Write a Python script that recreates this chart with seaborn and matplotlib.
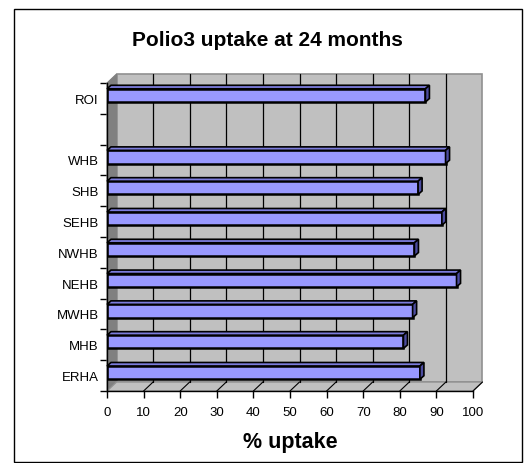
import matplotlib
matplotlib.use("Agg")
import matplotlib.pyplot as plt
import seaborn as sns
import numpy as np
import pandas as pd
from matplotlib.patches import Polygon, Rectangle
from matplotlib.lines import Line2D

# ---- data ----
regions = ["ROI", "WHB", "SHB", "SEHB", "NWHB", "NEHB", "MWHB", "MHB", "ERHA"]
uptake = [87, 92.5, 85, 91.5, 84, 95.5, 83.5, 81, 85.5]
order = ["ROI", " ", "WHB", "SHB", "SEHB", "NWHB", "NEHB", "MWHB", "MHB", "ERHA"]
xticks = [0, 10, 20, 30, 40, 50, 60, 70, 80, 90, 100]
title = "Polio3 uptake at 24 months"
xlabel = "% uptake"

sns.set_theme(style="white")
plt.rcParams["font.family"] = ["Liberation Sans", "DejaVu Sans"]
plt.rcParams["text.color"] = "black"
plt.rcParams["xtick.color"] = "black"
plt.rcParams["ytick.color"] = "black"
plt.rcParams["axes.labelcolor"] = "black"

W, H, DPI = 530, 464, 100
fig = plt.figure(figsize=(W / DPI, H / DPI), dpi=DPI)

# front plane of the 3D plot (pixels)
L, R, T, B = 107, 473, 84, 392
ax = fig.add_axes([L / W, (H - B) / H, (R - L) / W, (B - T) / H])
ax.set_facecolor("none")

df = pd.DataFrame({"region": regions, "uptake": uptake})
sns.barplot(data=df, x="uptake", y="region", order=order, orient="h",
            color="#9999ff", saturation=1, edgecolor="black", linewidth=1.8,
            width=0.43, ax=ax, zorder=5)
bars = [p for p in ax.patches if p.get_width() > 0]

ax.set_xlim(0, 100)
ax.set_ylim(len(order) - 0.5, -0.5)

# depth offsets in axes fraction
dx = 9.5 / (R - L)
dy = 9 / (B - T)
wall_kw = dict(transform=ax.transAxes, clip_on=False)
ax.add_patch(Rectangle((dx, dy), 1, 1, facecolor="#c0c0c0", edgecolor="#909090",
                       lw=1.2, zorder=0, **wall_kw))
ax.add_patch(Polygon([(0, 0), (dx, dy), (dx, 1 + dy), (0, 1)], closed=True,
                     facecolor="#808080", edgecolor="#808080", lw=0.8, zorder=1, **wall_kw))
ax.add_patch(Polygon([(0, 0), (1, 0), (1 + dx, dy), (dx, dy)], closed=True,
                     facecolor="#c0c0c0", edgecolor="#909090", lw=1, zorder=1, **wall_kw))
for xv in xticks:
    fx = xv / 100
    if 0 < xv < 100:
        ax.add_line(Line2D([fx + dx, fx + dx], [dy, 1 + dy], color="black", lw=0.9,
                           zorder=2, **wall_kw))
    if xv > 0:
        ax.add_line(Line2D([fx, fx + dx], [0, dy], color="black", lw=0.8,
                           zorder=2, **wall_kw))

# 3D faces for bars
fig.canvas.draw()
shift_units = 3 / ((B - T) / len(order))
bdx, bdy = 4, 3.5
for p in bars:
    p.set_y(p.get_y() - shift_units)
fig.canvas.draw()
inv = ax.transData.inverted()
for p in bars:
    x0, y0, w, h = p.get_x(), p.get_y(), p.get_width(), p.get_height()
    (dl, dt) = ax.transData.transform((x0, y0))
    (dr, db) = ax.transData.transform((x0 + w, y0 + h))
    top_y = max(dt, db)
    bot_y = min(dt, db)
    top = [(dl, top_y), (dr, top_y), (dr + bdx, top_y + bdy), (dl + bdx, top_y + bdy)]
    side = [(dr, bot_y), (dr, top_y), (dr + bdx, top_y + bdy), (dr + bdx, bot_y + bdy)]
    ax.add_patch(Polygon(inv.transform(top), closed=True, facecolor="#7c7cdc",
                         edgecolor="black", lw=1.2, zorder=6, clip_on=False))
    ax.add_patch(Polygon(inv.transform(side), closed=True, facecolor="#4c4ca0",
                         edgecolor="black", lw=1.2, zorder=6, clip_on=False))

# spines / ticks
for s in ["top", "right"]:
    ax.spines[s].set_visible(False)
for s in ["left", "bottom"]:
    ax.spines[s].set_color("black")
    ax.spines[s].set_linewidth(1)
    ax.spines[s].set_zorder(7)

ax.set_xticks(xticks)
ax.set_xticklabels([str(v) for v in xticks], fontsize=9.5)
ax.set_yticks(range(len(order)))
ax.set_yticklabels(order, fontsize=9.5)
ax.set_yticks(np.arange(-0.5, len(order), 1), minor=True)
ax.tick_params(axis="y", which="major", length=0, pad=6)
ax.tick_params(axis="y", which="minor", length=5, width=1, color="black", left=True)
ax.tick_params(axis="x", which="major", length=5, width=1, color="black", bottom=True, pad=6)
ax.set_xlabel("")
ax.set_ylabel("")

fig.text(267 / W, 1 - 41 / H, title, ha="center", va="center",
         fontsize=15, fontweight="bold")
fig.text(290 / W, 1 - 443 / H, xlabel, ha="center", va="center",
         fontsize=15.5, fontweight="bold")

# chart border
fig.add_artist(Rectangle((14 / W, 1 - 463 / H), (522 - 14) / W, (463 - 10) / H,
                         transform=fig.transFigure, fill=False, edgecolor="black", lw=1))

fig.savefig("out.png", dpi=DPI)
